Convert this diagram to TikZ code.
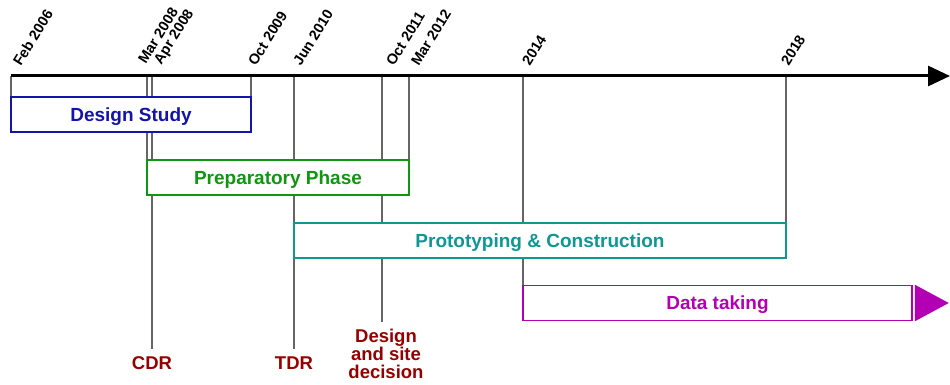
\documentclass[tikz,border=0pt]{standalone}
\usepackage{fontspec}
\setmainfont{Liberation Sans}
\usetikzlibrary{arrows.meta,positioning,backgrounds}

\definecolor{studyblue}{RGB}{20,20,170}
\definecolor{prepgreen}{RGB}{17,150,17}
\definecolor{prototeal}{RGB}{17,150,150}
\definecolor{datamagenta}{RGB}{180,0,180}
\definecolor{milered}{RGB}{150,0,0}

\begin{document}
\begin{tikzpicture}[x=1pt,y=-1pt,
    phase/.style={draw,fill=white,line width=1.6pt,minimum height=35pt,inner sep=0pt,
      text depth=0pt,font=\bfseries\fontsize{19}{20}\selectfont},
    datelabel/.style={anchor=south west,rotate=58,inner sep=0pt,
      font=\bfseries\fontsize{14.5}{14.5}\selectfont},
    milestone/.style={text=milered,align=center,inner sep=7pt,
      font=\bfseries\fontsize{18.5}{18}\selectfont}]
  \useasboundingbox (0,0) rectangle (950,385);

  % time axis
  \coordinate (origin) at (11,76);
  \coordinate (axisend) at (950,76);
  \coordinate (feb06) at (11,76);
  \coordinate (mar08) at (147,76);
  \coordinate (apr08) at (152,76);
  \coordinate (oct09) at (251,76);
  \coordinate (jun10) at (294,76);
  \coordinate (oct11) at (382,76);
  \coordinate (mar12) at (409,76);
  \coordinate (y14) at (523,76);
  \coordinate (y18) at (786,76);
  \draw[line width=3pt,-{Triangle[length=22pt,width=20pt]}] (origin) -- (axisend);

  % dates
  \begin{scope}[every node/.style=datelabel]
    \node (l-feb06) at ([xshift=10pt,yshift=9pt]feb06) {Feb 2006};
    \node (l-mar08) at ([xshift=-1pt,yshift=11pt]mar08) {Mar 2008};
    \node (l-apr08) at ([xshift=12pt,yshift=9pt]apr08) {Apr 2008};
    \node (l-oct09) at ([xshift=5pt,yshift=9pt]oct09) {Oct 2009};
    \node (l-jun10) at ([xshift=7pt,yshift=9pt]jun10) {Jun 2010};
    \node (l-oct11) at ([xshift=12pt,yshift=9pt]oct11) {Oct 2011};
    \node (l-mar12) at ([xshift=10pt,yshift=9pt]mar12) {Mar 2012};
    \node (l-y14) at ([xshift=7pt,yshift=9pt]y14) {2014};
    \node (l-y18) at ([xshift=3pt,yshift=9pt]y18) {2018};
  \end{scope}

  % phases
  \node[phase,draw=studyblue,text=studyblue,minimum width=240pt] (study) at (131,114.5) {Design Study};
  \node[phase,draw=prepgreen,text=prepgreen,minimum width=262pt] (prep) at (278,177.5) {Preparatory Phase\hspace{14pt}};
  \node[phase,draw=prototeal,text=prototeal,minimum width=492pt] (proto) at (540,240.5) {Prototyping \& Construction};
  \node[phase,draw=datamagenta,text=datamagenta,minimum width=389pt] (data) at (717.5,303) {Data taking};
  \fill[datamagenta] ([xshift=2pt]data.north east) -- ([xshift=2pt]data.south east)
    -- ([xshift=36pt]data.east) -- cycle;

  % milestones
  \node[milestone] (cdr) at (152,363) {CDR};
  \node[milestone] (tdr) at (294,363) {TDR};
  \node[milestone] (site) at (386,354) {Design\\and site\\decision};

  \begin{scope}[on background layer,every edge/.style={draw=black!60,line width=1.1pt}]
    \path (feb06) edge (feb06 |- study.north);
    \path (oct09) edge (oct09 |- study.north);
    \path (mar08) edge (mar08 |- prep.north);
    \path (mar12) edge (mar12 |- prep.north);
    \path (apr08) edge (apr08 |- cdr.north);
    \path (jun10) edge (jun10 |- tdr.north);
    \path (oct11) edge (oct11 |- site.north);
    \path (y14) edge (y14 |- data.north);
    \path (y18) edge (y18 |- proto.north);
  \end{scope}
\end{tikzpicture}
\end{document}
